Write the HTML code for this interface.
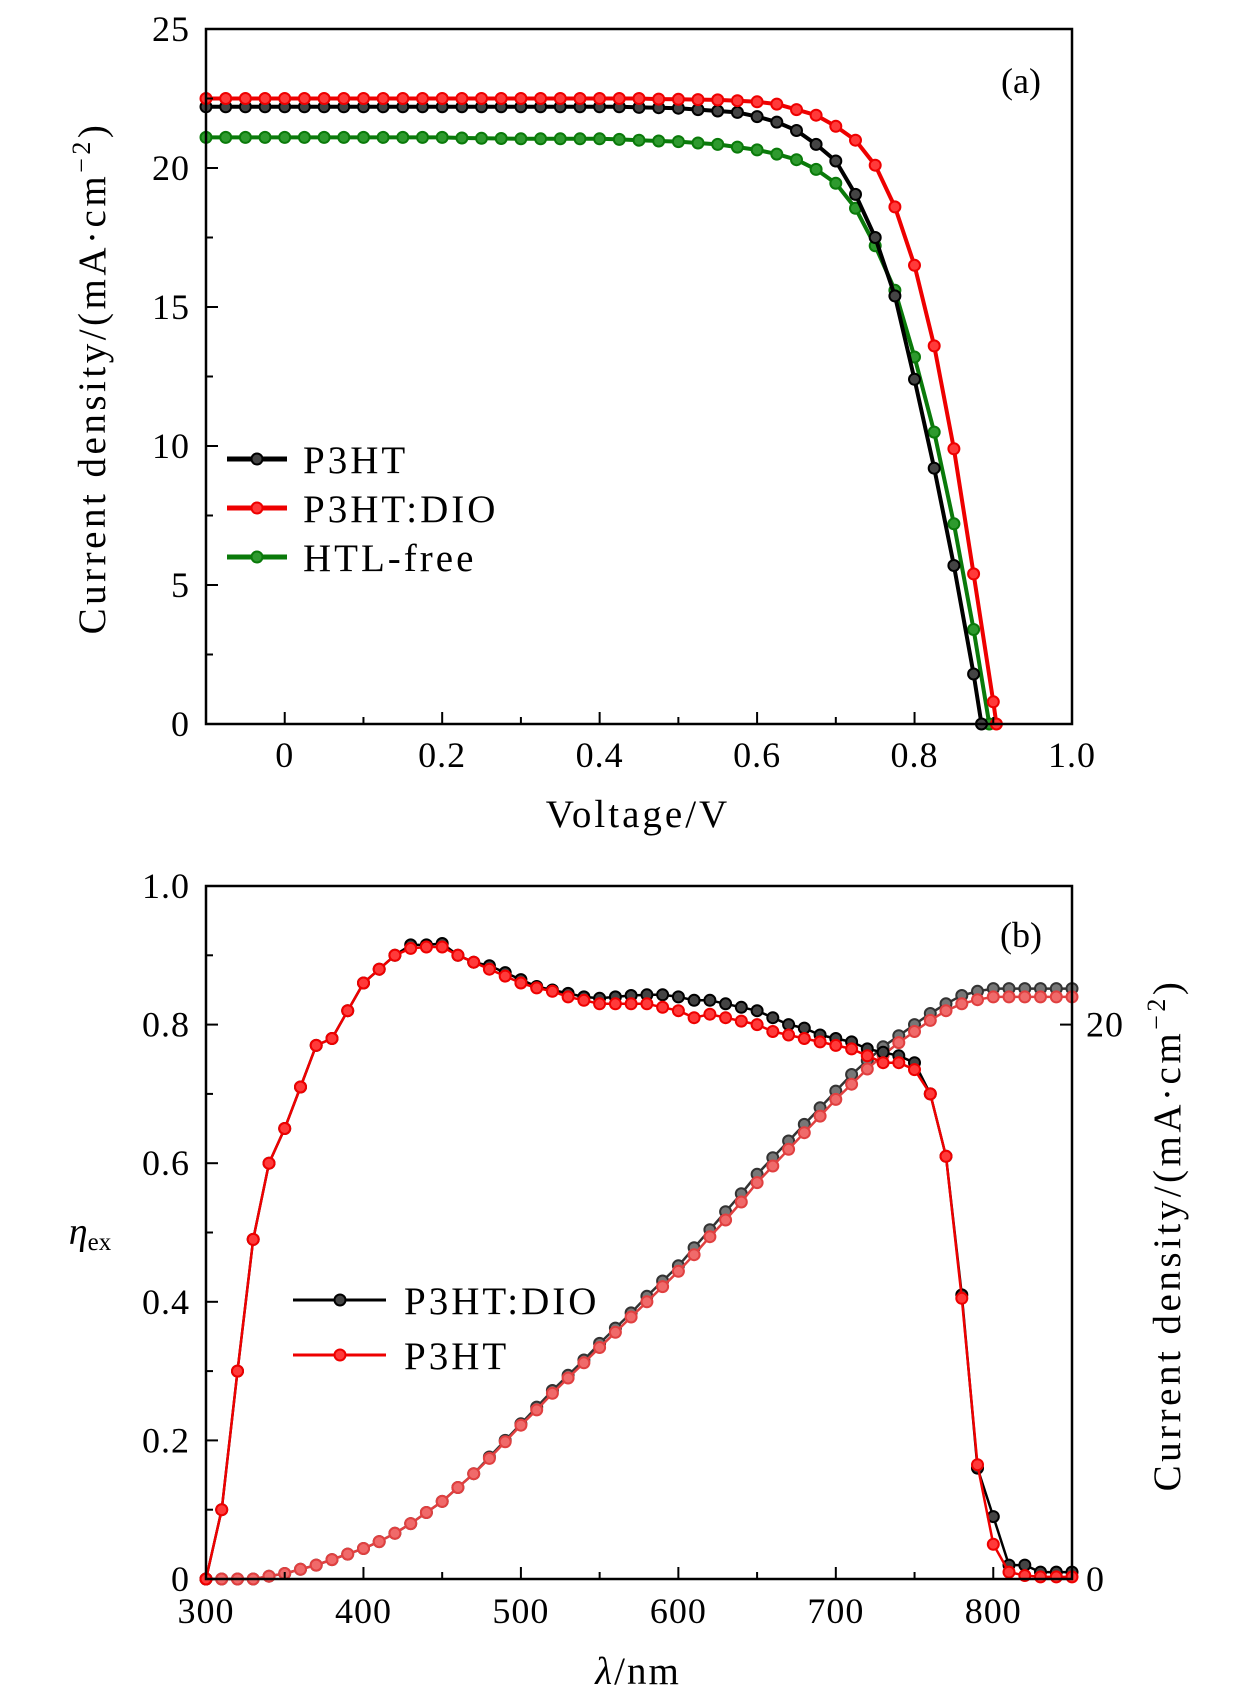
<!DOCTYPE html>
<html><head><meta charset="utf-8">
<style>
html,body{margin:0;padding:0;background:#fff;}
svg{display:block;font-family:"Liberation Serif",serif;}
</style></head>
<body>
<svg id="fig" width="1260" height="1701" viewBox="0 0 1260 1701" xmlns="http://www.w3.org/2000/svg"></svg>
<script>
// ---------- Panel (a) data: J-V ----------
const vP3HT = [-0.1,-0.075,-0.05,-0.025,0,0.025,0.05,0.075,0.1,0.125,0.15,0.175,0.2,0.225,0.25,0.275,0.3,0.325,0.35,0.375,0.4,0.425,0.45,0.475,0.5,0.525,0.55,0.575,0.6,0.625,0.65,0.675,0.7,0.725,0.75,0.775,0.8,0.825,0.85,0.875,0.885];
const jP3HT = [22.2,22.2,22.2,22.2,22.2,22.2,22.2,22.2,22.2,22.2,22.2,22.2,22.2,22.2,22.2,22.2,22.2,22.2,22.2,22.2,22.2,22.2,22.18,22.17,22.15,22.1,22.05,22.0,21.85,21.65,21.35,20.85,20.25,19.05,17.5,15.4,12.4,9.2,5.7,1.8,0];
const vDIO = [-0.1,-0.075,-0.05,-0.025,0,0.025,0.05,0.075,0.1,0.125,0.15,0.175,0.2,0.225,0.25,0.275,0.3,0.325,0.35,0.375,0.4,0.425,0.45,0.475,0.5,0.525,0.55,0.575,0.6,0.625,0.65,0.675,0.7,0.725,0.75,0.775,0.8,0.825,0.85,0.875,0.9,0.904];
const jDIO = [22.5,22.5,22.5,22.5,22.5,22.5,22.5,22.5,22.5,22.5,22.5,22.5,22.5,22.5,22.5,22.5,22.5,22.5,22.5,22.5,22.5,22.5,22.5,22.48,22.47,22.46,22.45,22.42,22.38,22.3,22.1,21.9,21.5,21.0,20.1,18.6,16.5,13.6,9.9,5.4,0.8,0];
const vFree = [-0.1,-0.075,-0.05,-0.025,0,0.025,0.05,0.075,0.1,0.125,0.15,0.175,0.2,0.225,0.25,0.275,0.3,0.325,0.35,0.375,0.4,0.425,0.45,0.475,0.5,0.525,0.55,0.575,0.6,0.625,0.65,0.675,0.7,0.725,0.75,0.775,0.8,0.825,0.85,0.875,0.895];
const jFree = [21.1,21.1,21.1,21.1,21.1,21.1,21.1,21.1,21.1,21.1,21.1,21.1,21.1,21.08,21.07,21.06,21.05,21.05,21.05,21.05,21.05,21.03,21.0,20.97,20.95,20.9,20.85,20.75,20.65,20.5,20.3,19.95,19.45,18.55,17.2,15.6,13.2,10.5,7.2,3.4,0];
const xTicksA = [0,0.2,0.4,0.6,0.8,1.0];
const xTickLabelsA = ["0","0.2","0.4","0.6","0.8","1.0"];
const yTicksA = [0,5,10,15,20,25];

// ---------- Panel (b) data: EQE + integrated J ----------
const lam = [300,310,320,330,340,350,360,370,380,390,400,410,420,430,440,450,460,470,480,490,500,510,520,530,540,550,560,570,580,590,600,610,620,630,640,650,660,670,680,690,700,710,720,730,740,750,760,770,780,790,800,810,820,830,840,850];
const eqeDIO = [0,0.1,0.3,0.49,0.6,0.65,0.71,0.77,0.78,0.82,0.86,0.88,0.9,0.915,0.915,0.917,0.9,0.89,0.885,0.875,0.865,0.855,0.85,0.845,0.84,0.838,0.84,0.842,0.843,0.843,0.84,0.835,0.835,0.83,0.825,0.82,0.81,0.8,0.795,0.785,0.78,0.775,0.765,0.76,0.755,0.745,0.7,0.61,0.41,0.16,0.09,0.02,0.02,0.01,0.01,0.01];
const eqeP3HT = [0,0.1,0.3,0.49,0.6,0.65,0.71,0.77,0.78,0.82,0.86,0.88,0.9,0.91,0.912,0.912,0.9,0.89,0.88,0.87,0.86,0.853,0.848,0.84,0.835,0.83,0.83,0.83,0.83,0.825,0.82,0.81,0.815,0.81,0.805,0.8,0.79,0.785,0.78,0.775,0.77,0.765,0.755,0.745,0.745,0.735,0.7,0.61,0.405,0.165,0.05,0.01,0.005,0.003,0.003,0.003];
const jscDIO = [0,0,0,0,0.1,0.2,0.35,0.5,0.7,0.9,1.1,1.35,1.65,2.0,2.4,2.8,3.3,3.8,4.4,5.0,5.6,6.2,6.8,7.35,7.9,8.5,9.05,9.6,10.2,10.75,11.3,11.95,12.6,13.25,13.9,14.6,15.2,15.8,16.4,17.0,17.6,18.2,18.7,19.2,19.6,20.0,20.4,20.75,21.05,21.2,21.3,21.3,21.3,21.3,21.3,21.3];
const jscP3HT = [0,0,0,0,0.1,0.2,0.35,0.5,0.7,0.9,1.1,1.35,1.65,2.0,2.4,2.8,3.3,3.8,4.35,4.95,5.55,6.1,6.7,7.25,7.8,8.35,8.9,9.45,10.0,10.55,11.1,11.7,12.35,12.95,13.6,14.3,14.9,15.5,16.1,16.7,17.3,17.85,18.4,18.9,19.35,19.75,20.15,20.5,20.75,20.9,21.0,21.0,21.0,21.0,21.0,21.0];
const xTicksB = [300,400,500,600,700,800];
const yTicksB = [0,0.2,0.4,0.6,0.8,1.0];
const yTickLabelsB = ["0","0.2","0.4","0.6","0.8","1.0"];
const yTicksB2 = [0,20];

const NS = "http://www.w3.org/2000/svg";
const svg = document.getElementById('fig');
function mk(tag, attrs, parent){
  const e = document.createElementNS(NS, tag);
  for (const k in attrs) e.setAttribute(k, attrs[k]);
  (parent||svg).appendChild(e);
  return e;
}
function txt(s, attrs, parent){ const t = mk('text', attrs, parent); t.textContent = s; return t; }
const TICKFS = 36, TICKLS = 1;

// ---------- Panel (a) ----------
const A = {l:206, r:1072, t:29, b:724, x0:-0.1, x1:1.0, y0:0, y1:25};
const ax = v => A.l + (v - A.x0)/(A.x1 - A.x0)*(A.r - A.l);
const ay = v => A.b - (v - A.y0)/(A.y1 - A.y0)*(A.b - A.t);
const gA = mk('g', {});



function drawSeries(g, xs, ys, fx, fy, color, fill, lw, r, name){
  const sg = mk('g', {}, g);
  
  
  const pts = xs.map((x,i)=> fx(x).toFixed(1)+','+fy(ys[i]).toFixed(1)).join(' ');
  const pl = mk('polyline', {points:pts, fill:'none', stroke:color, 'stroke-width':lw, 'stroke-linejoin':'round'}, sg);
  
  
  xs.forEach((x,i)=>{
    const c = mk('circle', {cx:fx(x).toFixed(1), cy:fy(ys[i]).toFixed(1), r:r, fill:fill, stroke:color, 'stroke-width':2}, sg);
    
    
  });
}
drawSeries(gA, vFree, jFree, ax, ay, '#0a7a0a', '#2e9a2e', 4, 5.5, 'series-htl-free');
drawSeries(gA, vP3HT, jP3HT, ax, ay, '#000', '#444', 4, 5.5, 'series-p3ht');
drawSeries(gA, vDIO, jDIO, ax, ay, '#ee0000', '#ff3a3a', 4, 5.5, 'series-p3ht-dio');

const frameA = mk('rect', {x:A.l, y:A.t, width:A.r-A.l, height:A.b-A.t, fill:'none', stroke:'#000', 'stroke-width':2.5}, gA);


xTicksA.forEach((v,i)=>{
  mk('line', {x1:ax(v), x2:ax(v), y1:A.b, y2:A.b-12, stroke:'#000','stroke-width':2}, gA);
  if (i < xTicksA.length-1) mk('line', {x1:ax(v+0.1), x2:ax(v+0.1), y1:A.b, y2:A.b-7, stroke:'#000','stroke-width':2}, gA);
  const t = txt(xTickLabelsA[i], {x:ax(v), y:A.b+43, 'text-anchor':'middle', 'font-size':TICKFS, 'letter-spacing':TICKLS}, gA);
  
  
});
mk('line', {x1:ax(-0.1), x2:ax(-0.1), y1:A.b, y2:A.b-7, stroke:'#000','stroke-width':2}, gA);
yTicksA.forEach(v=>{
  mk('line', {x1:A.l, x2:A.l+12, y1:ay(v), y2:ay(v), stroke:'#000','stroke-width':2}, gA);
  if (v < 25) mk('line', {x1:A.l, x2:A.l+7, y1:ay(v+2.5), y2:ay(v+2.5), stroke:'#000','stroke-width':2}, gA);
  const t = txt(String(v), {x:A.l-16, y:ay(v)+12, 'text-anchor':'end', 'font-size':TICKFS, 'letter-spacing':TICKLS}, gA);
  
  
});
const xtA = txt('Voltage/V', {x:638, y:827, 'text-anchor':'middle', 'font-size':39, 'letter-spacing':3}, gA);


const ytA = mk('text', {x:0, y:0, transform:'translate(105,378) rotate(-90)', 'text-anchor':'middle', 'font-size':39, 'letter-spacing':3.5}, gA);
ytA.innerHTML = 'Current density/(mA·cm<tspan dy="-15" font-size="26">−2</tspan><tspan dy="15">)</tspan>';


const pa = txt('(a)', {x:1021, y:93, 'text-anchor':'middle', 'font-size':36}, gA);



const legA = [['P3HT','#000','#444',459],['P3HT:DIO','#ee0000','#ff3a3a',508],['HTL-free','#0a7a0a','#2e9a2e',557]];
legA.forEach(([lab,c,f,y])=>{
  const g = mk('g', {}, gA);
  
  
  mk('line', {x1:227, x2:287, y1:y, y2:y, stroke:c, 'stroke-width':5}, g);
  mk('circle', {cx:257, cy:y, r:5.5, fill:f, stroke:c, 'stroke-width':2}, g);
  txt(lab, {x:303, y:y+14, 'font-size':39, 'letter-spacing':3}, g);
});

// ---------- Panel (b) ----------
const B = {l:206, r:1072, t:886, b:1579, x0:300, x1:850};
const bx = v => B.l + (v - B.x0)/(B.x1 - B.x0)*(B.r - B.l);
const by = v => B.b - v*(B.b - B.t);
const by2 = v => B.b - v/25*(B.b - B.t);
const gB = mk('g', {});



drawSeries(gB, lam, jscDIO, bx, by2, '#333', '#777', 2.5, 5.5, 'series-jsc-p3ht-dio');
drawSeries(gB, lam, jscP3HT, bx, by2, '#e04040', '#f06a6a', 2.5, 5.5, 'series-jsc-p3ht');
drawSeries(gB, lam, eqeDIO, bx, by, '#000', '#444', 2.5, 5.5, 'series-eqe-p3ht-dio');
drawSeries(gB, lam, eqeP3HT, bx, by, '#ee0000', '#ff3a3a', 2.5, 5.5, 'series-eqe-p3ht');

const frameB = mk('rect', {x:B.l, y:B.t, width:B.r-B.l, height:B.b-B.t, fill:'none', stroke:'#000', 'stroke-width':2.5}, gB);


xTicksB.forEach(v=>{
  mk('line', {x1:bx(v), x2:bx(v), y1:B.b, y2:B.b-12, stroke:'#000','stroke-width':2}, gB);
  mk('line', {x1:bx(v+50), x2:bx(v+50), y1:B.b, y2:B.b-7, stroke:'#000','stroke-width':2}, gB);
  const t = txt(String(v), {x:bx(v), y:B.b+44, 'text-anchor':'middle', 'font-size':TICKFS, 'letter-spacing':TICKLS}, gB);
  
  
});
yTicksB.forEach((v,i)=>{
  mk('line', {x1:B.l, x2:B.l+12, y1:by(v), y2:by(v), stroke:'#000','stroke-width':2}, gB);
  if (v < 1) mk('line', {x1:B.l, x2:B.l+7, y1:by(v+0.1), y2:by(v+0.1), stroke:'#000','stroke-width':2}, gB);
  const t = txt(yTickLabelsB[i], {x:B.l-16, y:by(v)+12, 'text-anchor':'end', 'font-size':TICKFS, 'letter-spacing':TICKLS}, gB);
  
  
});
yTicksB2.forEach(v=>{
  mk('line', {x1:B.r, x2:B.r-12, y1:by2(v), y2:by2(v), stroke:'#000','stroke-width':2}, gB);
  const t = txt(String(v), {x:B.r+14, y:by2(v)+12, 'font-size':TICKFS, 'letter-spacing':TICKLS}, gB);
  
  
});
const xtB = mk('text', {x:638, y:1684, 'text-anchor':'middle', 'font-size':39, 'letter-spacing':2}, gB);
xtB.innerHTML = '<tspan font-style="italic">λ</tspan>/nm';


const ytB = mk('text', {x:90, y:1244, 'font-size':38, 'text-anchor':'middle'}, gB);
ytB.innerHTML = '<tspan font-style="italic">η</tspan><tspan font-size="25" dy="6">ex</tspan>';


const yt2B = mk('text', {x:0, y:0, transform:'translate(1180,1235) rotate(-90)', 'text-anchor':'middle', 'font-size':39, 'letter-spacing':3.5}, gB);
yt2B.innerHTML = 'Current density/(mA·cm<tspan dy="-15" font-size="26">−2</tspan><tspan dy="15">)</tspan>';


const pb = txt('(b)', {x:1021, y:947, 'text-anchor':'middle', 'font-size':36}, gB);



const legB = [['P3HT:DIO','#000','#444',1300],['P3HT','#ee0000','#ff3a3a',1355]];
legB.forEach(([lab,c,f,y])=>{
  const g = mk('g', {}, gB);
  
  
  mk('line', {x1:293, x2:386, y1:y, y2:y, stroke:c, 'stroke-width':3}, g);
  mk('circle', {cx:340, cy:y, r:5.5, fill:f, stroke:c, 'stroke-width':2}, g);
  txt(lab, {x:404, y:y+14, 'font-size':39, 'letter-spacing':3}, g);
});
</script>
</body></html>
